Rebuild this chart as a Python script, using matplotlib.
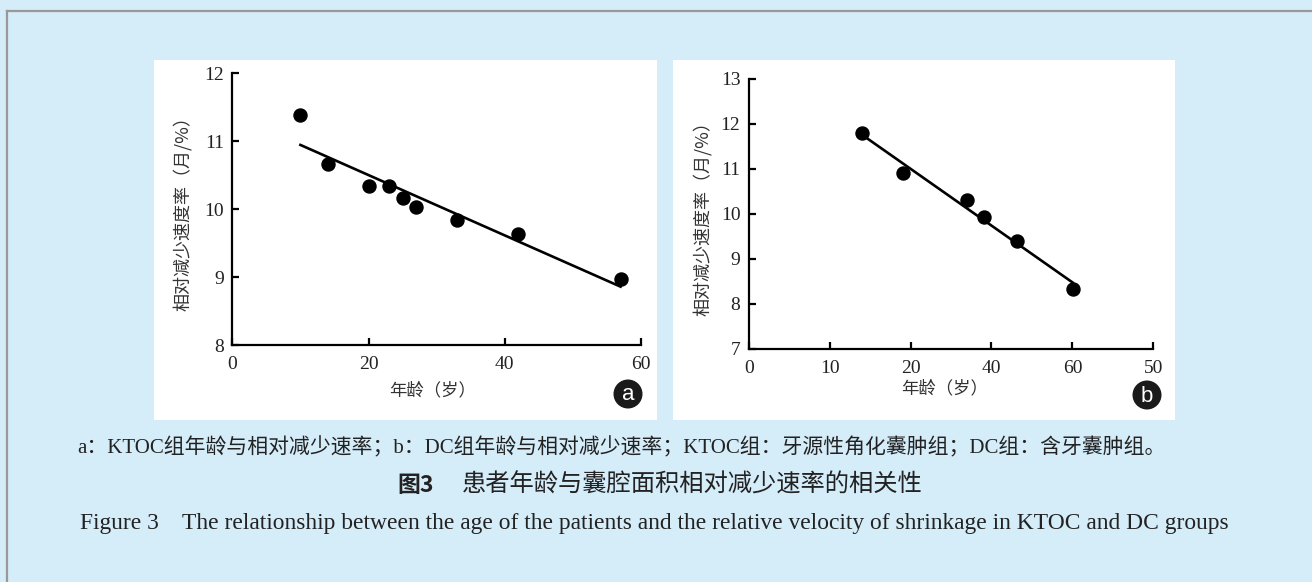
import matplotlib
matplotlib.use("Agg")
import matplotlib.pyplot as plt
from matplotlib.patches import Rectangle, Ellipse
from matplotlib.lines import Line2D
import numpy as np

plt.rcParams['font.family'] = ['Liberation Serif', 'Noto Sans CJK SC']

# panel a: KTOC group
age_a = [10, 14, 20, 23, 25, 27, 33, 42, 57]
rate_a = [11.38, 10.66, 10.34, 10.34, 10.17, 10.03, 9.85, 9.64, 8.97]

# panel b: DC group (x axis labels in the original are out of order)
age_b = [14.06, 19.05, 26.97, 29.03, 33.15, 40.04]
rate_b = [11.79, 10.91, 10.30, 9.94, 9.41, 8.34]
xticks_b = [0, 10, 20, 30, 40, 50]
xticklabels_b = ['0', '10', '20', '40', '60', '50']

W, H = 1312, 582
BG = '#d5ecf9'
CJK = ['Noto Sans CJK SC', 'Liberation Serif']
TXT = '#222222'

fig = plt.figure(figsize=(W / 100, H / 100), dpi=100)
fig.patch.set_facecolor(BG)


def fx(px):
    return px / W


def fy(py):
    return 1 - py / H


# frame lines (top and left)
fig.add_artist(Line2D([fx(7), 1], [fy(11), fy(11)], color='#999999', lw=1.6))
fig.add_artist(Line2D([fx(7), fx(7)], [fy(11), 0], color='#999999', lw=1.6))

# white panels
for x0, x1 in [(154, 657), (673, 1175)]:
    fig.add_artist(Rectangle((fx(x0), fy(420)), fx(x1 - x0), (420 - 60) / H,
                             transform=fig.transFigure, facecolor='white',
                             edgecolor='none', zorder=0))


def draw_panel(ax, x, y, xlim, ylim, yticks, ylab_pos, xlab_pos):
    ax.set_facecolor('white')
    ax.scatter(x, y, s=88, color='black', zorder=3)
    k, b = np.polyfit(x, y, 1)
    xs = np.array([min(x), max(x)])
    ax.plot(xs, k * xs + b, color='black', lw=1.9, zorder=2)
    ax.set_xlim(*xlim)
    ax.set_ylim(*ylim)
    ax.set_yticks(yticks)
    for s in ['top', 'right']:
        ax.spines[s].set_visible(False)
    for s in ['left', 'bottom']:
        ax.spines[s].set_linewidth(1.6)
    ax.tick_params(direction='in', length=5, width=1.6, labelsize=14,
                   colors='black', labelcolor=TXT)
    ax.tick_params(axis='x', pad=8)
    ax.tick_params(axis='y', pad=6)
    ax.set_ylabel('相对减少速度率（月/%）', family=CJK, fontsize=13,
                  color='#333333')
    ax.set_xlabel('年龄（岁）', family=CJK, fontsize=12.5, color='#333333')
    ax.yaxis.set_label_coords(*ylab_pos)
    ax.xaxis.set_label_coords(*xlab_pos)


ax1 = fig.add_axes([fx(232.3), fy(345.3), fx(641 - 232.3), (345.3 - 73.3) / H])
draw_panel(ax1, age_a, rate_a, (0, 60), (8, 12), [8, 9, 10, 11, 12],
           (-0.099, 0.5), (0.491, -0.132))
ax1.set_xticks([0, 20, 40, 60])

ax2 = fig.add_axes([fx(748.7), fy(349), fx(1153.3 - 748.7), (349 - 79) / H])
draw_panel(ax2, age_b, rate_b, (0, 50), (7, 13), [7, 8, 9, 10, 11, 12, 13],
           (-0.091, 0.5), (0.485, -0.112))
ax2.set_xticks(xticks_b)
ax2.set_xticklabels(xticklabels_b)

# letter badges
for cx, cy, letter in [(628, 394, 'a'), (1147, 395, 'b')]:
    fig.add_artist(Ellipse((fx(cx), fy(cy)), 29 / W, 29 / H,
                           transform=fig.transFigure, facecolor='#1a1a1a',
                           edgecolor='none', zorder=5))
    fig.text(fx(cx), fy(cy + 1), letter, family='Liberation Sans', fontsize=16,
             color='white', ha='center', va='center', zorder=6)

# captions
fig.text(fx(77), fy(448),
         'a：KTOC组年龄与相对减少速率；b：DC组年龄与相对减少速率；KTOC组：牙源性角化囊肿组；DC组：含牙囊肿组。',
         family=['Liberation Serif', 'Noto Sans CJK SC'], fontsize=15,
         color=TXT, va='center', ha='left')
fig.text(fx(397), fy(485), '图3', family=['Noto Sans CJK SC'], fontweight='bold',
         fontsize=16.5, color=TXT, va='center', ha='left')
fig.text(fx(462), fy(485), '患者年龄与囊腔面积相对减少速率的相关性',
         family=['Noto Sans CJK SC'], fontsize=17.5, color=TXT,
         va='center', ha='left')
fig.text(fx(80), fy(523),
         'Figure 3    The relationship between the age of the patients and the relative velocity of shrinkage in KTOC and DC groups',
         family='Liberation Serif', fontsize=16.9, color=TXT,
         va='center', ha='left')

fig.savefig('out.png', dpi=100, facecolor=BG)
